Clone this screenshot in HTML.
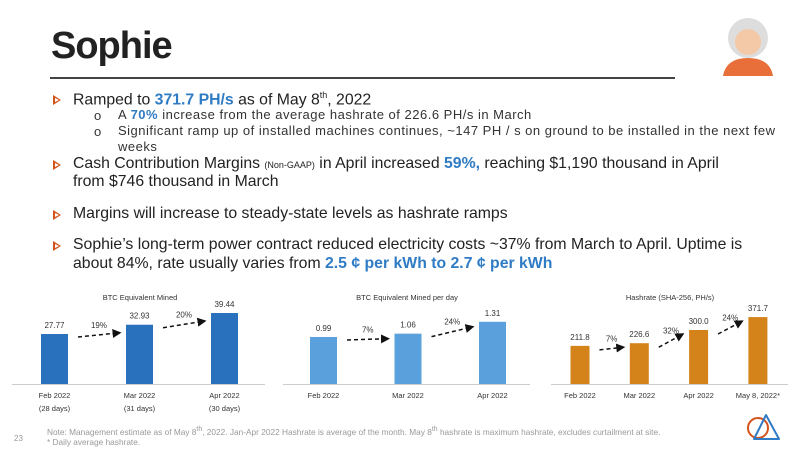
<!DOCTYPE html>
<html><head><meta charset="utf-8"><style>
body{margin:0;width:800px;height:450px;background:#fff;font-family:"Liberation Sans",sans-serif;position:relative;overflow:hidden;color:#222}
.t{position:absolute;white-space:nowrap}
.b{font-size:15.8px}
.s{font-size:13px;color:#333;letter-spacing:0.5px}
.blue{color:#2f7bc4;font-weight:bold}
.tri{position:absolute;width:0;height:0;border-top:5px solid transparent;border-bottom:5px solid transparent;border-left:8px solid #d2541c}
.tri::after{content:"";position:absolute;left:-6.5px;top:-2.5px;border-top:2.5px solid transparent;border-bottom:2.5px solid transparent;border-left:4px solid #fff}
svg text{font-family:"Liberation Sans",sans-serif}
</style></head><body>
<div class="t" style="left:51px;top:25px;font-size:38px;font-weight:900;letter-spacing:-1px">Sophie</div>
<div style="position:absolute;left:50px;top:77px;width:625px;height:1.5px;background:#444"></div>
<svg style="position:absolute;left:718px;top:10px" width="60" height="66"><circle cx="30" cy="28" r="20" fill="#ddd"/><circle cx="30" cy="32" r="13" fill="#f3c9a8"/><path d="M5 66 Q8 48 30 48 Q52 48 55 66Z" fill="#e86f3a"/></svg>

<div class="tri" style="left:53px;top:95px"></div>
<div class="t b" style="left:73px;top:90px">Ramped to <span class="blue">371.7 PH/s</span> as of May 8<sup style="font-size:9px">th</sup>, 2022</div>
<div class="t s" style="left:94px;top:108px">o</div>
<div class="t s" style="left:118px;top:107px">A <span class="blue">70%</span> increase from the average hashrate of 226.6 PH/s in March</div>
<div class="t s" style="left:94px;top:124px">o</div>
<div class="t s" style="left:118px;top:123px">Significant ramp up of installed machines continues, ~147 PH / s on ground to be installed in the next few</div>
<div class="t s" style="left:118px;top:139px">weeks</div>
<div class="tri" style="left:53px;top:160px"></div>
<div class="t b" style="left:73px;top:155px">Cash Contribution Margins <span style="font-size:9px">(Non-GAAP)</span> in April increased <span class="blue">59%,</span> reaching $1,190 thousand in April</div>
<div class="t b" style="left:73px;top:173px">from $746 thousand in March</div>
<div class="tri" style="left:53px;top:210px"></div>
<div class="t b" style="left:73px;top:205px">Margins will increase to steady-state levels as hashrate ramps</div>
<div class="tri" style="left:53px;top:241px"></div>
<div class="t b" style="left:73px;top:236px">Sophie’s long-term power contract reduced electricity costs ~37% from March to April. Uptime is</div>
<div class="t b" style="left:73px;top:255px">about 84%, rate usually varies from <span class="blue">2.5 ¢ per kWh to 2.7 ¢ per kWh</span></div>

<svg id="charts" style="position:absolute;left:0;top:0" width="800" height="450">
<defs><marker id="ah" markerWidth="6" markerHeight="6" refX="5" refY="3" orient="auto"><path d="M0,0L6,3L0,6Z" fill="#111"/></marker></defs>
</svg>

<div class="t" style="left:47px;top:426px;font-size:8.3px;color:#999">Note: Management estimate as of May 8<sup>th</sup>, 2022. Jan-Apr 2022 Hashrate is average of the month. May 8<sup>th</sup> hashrate is maximum hashrate, excludes curtailment at site.</div>
<div class="t" style="left:47px;top:437px;font-size:8.3px;color:#999">* Daily average hashrate.</div>
<div class="t" style="left:14px;top:434px;font-size:8px;color:#999">23</div>
<svg style="position:absolute;left:744px;top:410px" width="40" height="36"><circle cx="14" cy="18" r="10" fill="none" stroke="#d2541c" stroke-width="2"/><path d="M22 5L35 29H10Z" fill="none" stroke="#2f7bc4" stroke-width="2" stroke-linejoin="round"/></svg>

<script>
const c1Cats=["Feb 2022","Mar 2022","Apr 2022"];
const c1Sub=["(28 days)","(31 days)","(30 days)"];
const c1Vals=[27.77,32.93,39.44];
const c1Labels=["27.77","32.93","39.44"];
const c1Pcts=["19%","20%"];
const c2Cats=["Feb 2022","Mar 2022","Apr 2022"];
const c2Vals=[0.99,1.06,1.31];
const c2Labels=["0.99","1.06","1.31"];
const c2Pcts=["7%","24%"];
const c3Cats=["Feb 2022","Mar 2022","Apr 2022","May 8, 2022*"];
const c3Vals=[211.8,226.6,300.0,371.7];
const c3Labels=["211.8","226.6","300.0","371.7"];
const c3Pcts=["7%","32%","24%"];

const svg=document.getElementById('charts');
const NS='http://www.w3.org/2000/svg';
function mk(tag,attrs,name){const e=document.createElementNS(NS,tag);for(const k in attrs)e.setAttribute(k,attrs[k]);


svg.appendChild(e);return e;}
function txt(x,y,s,size,fill,name,anchor){const t=mk('text',{x:x,y:y,'font-size':size,fill:fill,'text-anchor':anchor||'middle'},name);t.textContent=s;return t;}

function chart(o){
  const base=384;
  const xAt=i=>o.x0+i*o.step;
  const h=v=>v*o.pxPerUnit;
  mk('line',{x1:o.ax0,x2:o.ax1,y1:base+0.5,y2:base+0.5,stroke:'#ccc','stroke-width':1},'x-axis');
  txt(o.titleX,300,o.title,7.5,'#333','chart-title');
  o.vals.forEach((v,i)=>{
    const x=xAt(i);
    mk('rect',{x:x-o.bw/2,y:base-h(v),width:o.bw,height:h(v),fill:o.color},'bar-'+i);
    txt(x,base-h(v)-6,o.labels[i],8,'#333','value-label');
    txt(x,398,o.cats[i],7.5,'#333','x-tick-label');
    if(o.sub)txt(x,411,o.sub[i],7.5,'#333','x-tick-sublabel');
  });
  o.pcts.forEach((p,i)=>{
    const xa=xAt(i)+o.bw/2+10, xb=xAt(i+1)-o.bw/2-6;
    const ya=base-h(o.vals[i])-o.arrOff, yb=base-h(o.vals[i+1])-o.arrOff2;
    mk('line',{x1:xa,y1:ya,x2:xb,y2:yb,stroke:'#111','stroke-width':1.5,'stroke-dasharray':'4,3','marker-end':'url(#ah)'},'growth-arrow');
    txt((xa+xb)/2,(ya+yb)/2-7,p,8,'#333','growth-label');
  });
}
chart({x0:54.5,step:85,bw:27,pxPerUnit:1.8,ax0:12,ax1:265,title:"BTC Equivalent Mined",titleX:140,color:'#2a71bd',vals:c1Vals,labels:c1Labels,cats:c1Cats,sub:c1Sub,pcts:c1Pcts,arrOff:-3,arrOff2:-8});
chart({x0:323.5,step:84.5,bw:27,pxPerUnit:47.5,ax0:283,ax1:530,title:"BTC Equivalent Mined per day",titleX:407,color:'#5aa0dc',vals:c2Vals,labels:c2Labels,cats:c2Cats,sub:null,pcts:c2Pcts,arrOff:-3,arrOff2:-5});
chart({x0:580,step:59.3,bw:19,pxPerUnit:0.18,ax0:551,ax1:788,title:"Hashrate (SHA-256, PH/s)",titleX:670,color:'#d4821a',vals:c3Vals,labels:c3Labels,cats:c3Cats,sub:null,pcts:c3Pcts,arrOff:-4,arrOff2:-4});
</script>
</body></html>
